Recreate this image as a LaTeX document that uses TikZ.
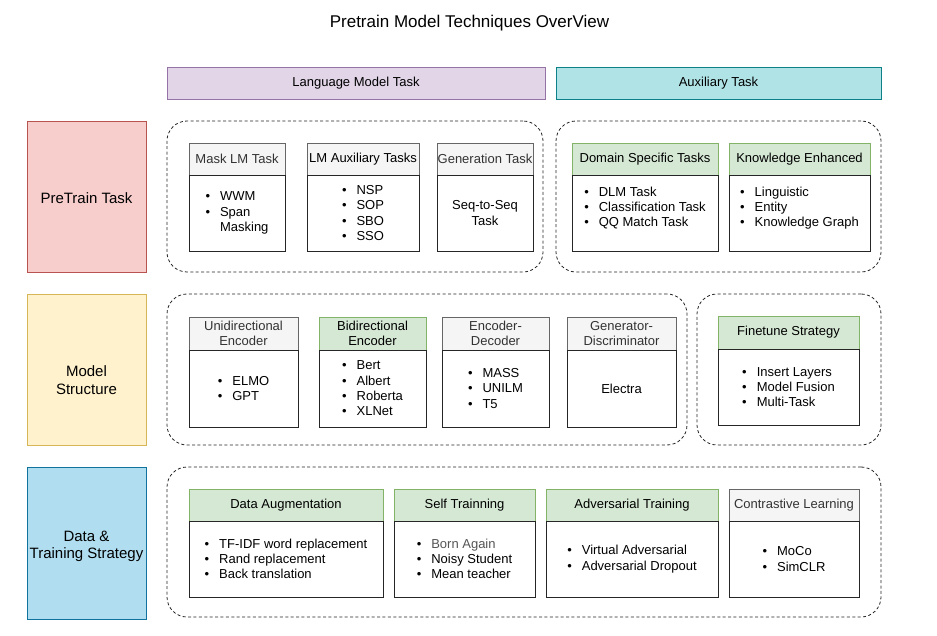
\documentclass[tikz,border=0pt]{standalone}
\usepackage{fontspec}
\setmainfont{Liberation Sans}
\usetikzlibrary{fit}

% palette
\definecolor{lmfill}{HTML}{E1D5E7}\definecolor{lmdraw}{HTML}{9673A6}
\definecolor{auxfill}{HTML}{B0E3E6}\definecolor{auxdraw}{HTML}{0E8088}
\definecolor{ptfill}{HTML}{F8CECC}\definecolor{ptdraw}{HTML}{B85450}
\definecolor{msfill}{HTML}{FFF2CC}\definecolor{msdraw}{HTML}{D6B656}
\definecolor{dtfill}{HTML}{B1DDF0}\definecolor{dtdraw}{HTML}{10739E}
\definecolor{grnfill}{HTML}{D5E8D4}\definecolor{grndraw}{HTML}{82B366}
\definecolor{gryfill}{HTML}{F5F5F5}\definecolor{grydraw}{HTML}{666666}
\definecolor{grytext}{HTML}{333333}
\definecolor{softtext}{HTML}{555555}

\newcommand\itm{\textbullet\hspace{10pt}}
\newcommand\itmgap{\hphantom{\textbullet\hspace{10pt}}}

% card: #1 name, #2 left x, #3 right x, #4 top y, #5 header bottom y,
% #6 bottom y, #7 header style, #8 header text
\newcommand\card[8]{%
  \node[#7, fit={(#2,#4) (#3,#5)}] (#1h) {};
  \node[bodybox, fit={(#2,#5) (#3,#6)}] (#1b) {};
  \node[headtext, #7text] (#1t) at (#1h.center) {#8};
}

\tikzset{
  x=1pt, y=-1pt,
  txt/.style={font=\fontsize{13}{15.3}\selectfont, inner sep=0pt},
  headtext/.style={txt, align=center},
  listtext/.style={txt, align=left},
  ctext/.style={txt, align=center},
  grnhead/.style={draw=grndraw, fill=grnfill, line width=0.9pt, inner sep=0pt},
  gryhead/.style={draw=grydraw, fill=gryfill, line width=0.9pt, inner sep=0pt},
  grnheadtext/.style={text=black},
  gryheadtext/.style={text=grytext},
  gryhead2/.style={gryhead},
  gryhead2text/.style={text=black},
  bodybox/.style={draw=black!85, fill=white, line width=0.9pt, inner sep=0pt},
  group/.style={draw=black!85, dash pattern=on 3pt off 2.4pt, line width=0.8pt,
    rounded corners=20pt},
  banner/.style={line width=0.9pt, inner sep=0pt,
    font=\fontsize{13}{15.3}\selectfont},
  rowlabel/.style={line width=0.9pt, inner sep=0pt, align=center,
    font=\fontsize{15}{17.6}\selectfont},
}

\begin{document}
\begin{tikzpicture}
\path[use as bounding box, fill=white] (0,0) rectangle (937,636);

% title
\node[font=\fontsize{17}{20}\selectfont, inner sep=0pt] (title) at (469.5,23) {Pretrain Model Techniques OverView};

% column banners
\node[banner, draw=lmdraw, fill=lmfill, fit={(167,67) (545,99)}] (lmtask) {};
\node[banner] (lmtaskt) at (lmtask.center) {Language Model Task};
\node[banner, draw=auxdraw, fill=auxfill, fit={(556,67) (881,99)}] (auxtask) {};
\node[banner] (auxtaskt) at (auxtask.center) {Auxiliary Task};

% row labels
\node[rowlabel, draw=ptdraw, fill=ptfill, fit={(27,121) (146,272)}] (pretrain) {};
\node[rowlabel] (pretraint) at (86.5,198) {PreTrain Task};
\node[rowlabel, draw=msdraw, fill=msfill, fit={(27,294) (146,445)}] (model) {};
\node[rowlabel] (modelt) at (86.5,380) {Model\\Structure};
\node[rowlabel, draw=dtdraw, fill=dtfill, fit={(27,467) (146,619)}] (data) {};
\node[rowlabel] (datat) at (86.5,546.5) {Data \&\\Training Strategy};

% dashed groups
\node[group, fit={(167,121) (543,272)}, inner sep=0pt] (glm) {};
\node[group, fit={(556,121) (881,272)}, inner sep=0pt] (gaux) {};
\node[group, fit={(167,294) (687,445)}, inner sep=0pt] (gstruct) {};
\node[group, fit={(697,294) (881,445)}, inner sep=0pt] (gfine) {};
\node[group, fit={(167,467) (881,617)}, inner sep=0pt] (gdata) {};

% pretrain tasks
\card{mlm}{189}{285}{143}{175}{251}{gryhead}{Mask LM Task}
\node[listtext] (mlml) at (mlmb.center) {\itm WWM\\\itm Span\\\itmgap Masking};
\card{lma}{307}{419}{143}{175}{251}{gryhead2}{LM Auxiliary Tasks}
\node[listtext] (lmal) at (lmab.center) {\itm NSP\\\itm SOP\\\itm SBO\\\itm SSO};
\card{gen}{437}{533}{143}{175}{251}{gryhead}{Generation Task}
\node[ctext] (genl) at (genb.center) {Seq-to-Seq\\Task};
\card{dom}{572}{718}{143}{175}{251}{grnhead}{Domain Specific Tasks}
\node[listtext] (doml) at (645,208) {\itm DLM Task\\\itm Classification Task\\\itm QQ Match Task};
\card{kno}{729}{870}{143}{175}{251}{grnhead}{Knowledge Enhanced}
\node[listtext] (knol) at (799.5,208) {\itm Linguistic\\\itm Entity\\\itm Knowledge Graph};

% model structure
\card{uni}{189}{298}{317}{350}{427}{gryhead}{Unidirectional\\Encoder}
\node[listtext] (unil) at (unib.center) {\itm ELMO\\\itm GPT};
\card{bid}{319}{426}{317}{350}{427}{grnhead}{Bidirectional\\Encoder}
\node[listtext] (bidl) at (bidb.center) {\itm Bert\\\itm Albert\\\itm Roberta\\\itm XLNet};
\card{encdec}{442}{549}{317}{350}{427}{gryhead}{Encoder-\\Decoder}
\node[listtext] (encdecl) at (encdecb.center) {\itm MASS\\\itm UNILM\\\itm T5};
\card{gendis}{567}{676}{317}{350}{427}{gryhead}{Generator-\\Discriminator}
\node[ctext] (gendisl) at (gendisb.center) {Electra};
\card{fine}{718}{859}{316}{349}{425}{grnhead}{Finetune Strategy}
\node[listtext] (finel) at (fineb.center) {\itm Insert Layers\\\itm Model Fusion\\\itm Multi-Task};

% data and training strategy
\card{aug}{189}{383}{489}{521}{597}{grnhead}{Data Augmentation}
\node[listtext] (augl) at (augb.center) {\itm TF-IDF word replacement\\\itm Rand replacement\\\itm Back translation};
\card{self}{394}{535}{489}{521}{597}{grnhead}{Self Trainning}
\node[listtext] (selfl) at (selfb.center) {\itm \textcolor{softtext}{Born Again}\\\itm Noisy Student\\\itm Mean teacher};
\card{adv}{546}{718}{489}{521}{597}{grnhead}{Adversarial Training}
\node[listtext] (advl) at (advb.center) {\itm Virtual Adversarial\\\itm Adversarial Dropout};
\card{con}{729}{859}{489}{521}{597}{gryhead}{Contrastive Learning}
\node[listtext] (conl) at (conb.center) {\itm MoCo\\\itm SimCLR};
\end{tikzpicture}
\end{document}
